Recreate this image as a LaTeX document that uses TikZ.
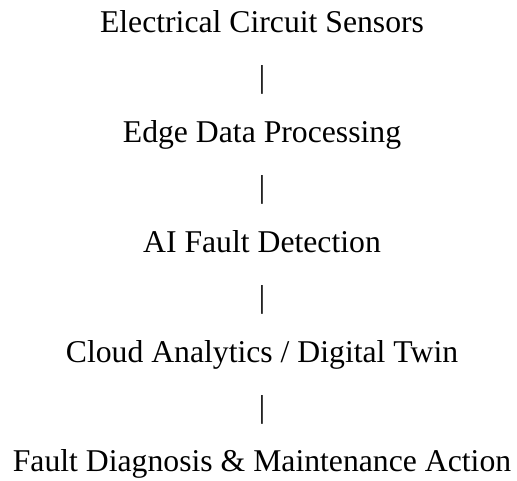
\documentclass[tikz,border=0pt]{standalone}
\usepackage{fontspec}
\setmainfont{Liberation Serif}
\begin{document}
\begin{tikzpicture}[x=1pt,y=1pt,
  stage/.style={anchor=base,inner sep=0pt,font=\fontsize{31.7}{38}\selectfont},
  bar/.style={stage}]
\useasboundingbox (0,0) rectangle (517,481);
\node[stage] (sensors) at (262,448) {Electrical Circuit Sensors};
\node[stage] (edge) at (262,338.25) {Edge Data Processing};
\node[stage] (detect) at (262,228.5) {AI Fault Detection};
\node[stage] (cloud) at (262,118.75) {Cloud Analytics / Digital Twin};
\node[stage] (action) at (262,9) {Fault Diagnosis \& Maintenance Action};
%%%%
\foreach \i/\y in {1/393.1,2/283.4,3/173.6,4/63.9}
\node[bar] (bar\i) at (262,\y) {|};
\end{tikzpicture}
\end{document}
